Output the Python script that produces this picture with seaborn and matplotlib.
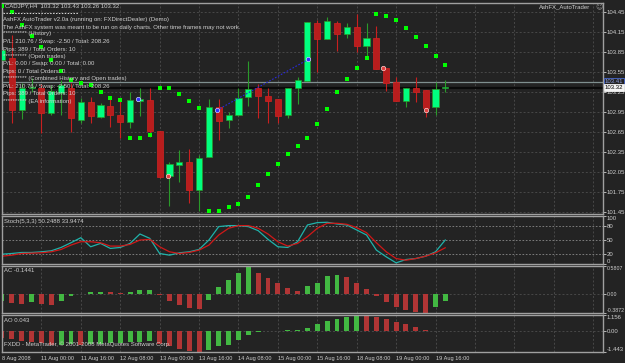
import matplotlib
matplotlib.use('Agg')
import matplotlib.pyplot as plt
import matplotlib.transforms as mtransforms
import seaborn as sns
import numpy as np
import pandas as pd

# CADJPY H4, one bar every 4 hours from 8 Aug 2008 08:00 to 19 Aug 2008 20:00
date_labels = ['8 Aug 2008', '11 Aug 00:00', '11 Aug 16:00', '12 Aug 08:00', '13 Aug 00:00',
               '13 Aug 16:00', '14 Aug 08:00', '15 Aug 00:00', '15 Aug 16:00', '18 Aug 08:00',
               '19 Aug 00:00', '19 Aug 16:00']
label_bars = [0, 4, 8, 12, 16, 20, 24, 28, 32, 36, 40, 44]

opens = [103.73, 103.76, 102.98, 103.31, 103.31, 102.94, 103.24, 103.31, 102.83, 103.10,
         102.88, 103.04, 102.91, 102.80, 103.12, 103.13, 102.67, 101.99, 102.16, 102.20,
         101.78, 102.28, 103.03, 102.83, 102.91, 103.18, 103.31, 103.19, 103.15, 102.91,
         103.31, 103.42, 104.29, 104.05, 104.29, 104.12, 104.23, 103.94, 104.06, 103.61,
         103.40, 103.12, 103.31, 103.28, 103.03, 103.32]
highs = [103.96, 104.11, 103.39, 103.46, 103.37, 103.36, 103.43, 103.39, 103.16, 103.18,
         103.09, 103.18, 103.12, 103.25, 103.31, 103.31, 102.67, 102.20, 102.38, 102.40,
         102.31, 103.15, 103.15, 102.95, 103.31, 103.72, 103.37, 103.31, 103.15, 103.31,
         103.48, 104.30, 104.33, 104.38, 104.32, 104.29, 104.42, 104.29, 104.24, 103.61,
         103.48, 103.31, 103.48, 103.28, 103.40, 103.43]
lows = [103.70, 102.79, 102.85, 103.25, 102.64, 102.91, 102.91, 102.65, 102.79, 102.79,
        102.86, 102.73, 102.56, 102.71, 102.89, 102.58, 101.96, 101.54, 101.90, 101.59,
        101.47, 102.28, 102.53, 102.71, 102.89, 103.04, 102.86, 102.79, 102.79, 102.86,
        103.07, 103.42, 103.55, 104.05, 103.87, 104.06, 103.85, 103.78, 103.60, 103.27,
        103.12, 103.03, 103.10, 102.88, 102.91, 103.26]
closes = [103.88, 102.98, 103.31, 103.33, 102.94, 103.27, 103.36, 102.86, 103.10, 102.89,
          103.06, 102.91, 102.80, 103.13, 103.15, 102.67, 101.98, 102.17, 102.20, 101.78,
          102.26, 103.03, 102.82, 102.91, 103.16, 103.30, 103.19, 103.12, 102.89, 103.31,
          103.43, 104.30, 104.05, 104.32, 104.12, 104.23, 103.94, 104.06, 103.60, 103.39,
          103.12, 103.31, 103.25, 103.01, 103.30, 103.32]

# parabolic SAR
sar = [104.55, 104.45, 104.26, 104.09, 103.93, 103.73, 103.57, 103.43, 103.39, 103.36,
       103.25, 103.16, 103.13, 102.56, 102.56, 102.61, 103.31, 103.31, 103.22, 103.12,
       103.01, 101.47, 101.47, 101.53, 101.57, 101.68, 101.86, 102.02, 102.17, 102.32,
       102.44, 102.56, 102.77, 103.00, 103.25, 103.45, 103.61, 103.76, 104.42, 104.39,
       104.33, 104.21, 104.08, 103.94, 103.79, 103.66]

stoch_k = [20.5, 21.9, 24.0, 24.0, 25.4, 27.5, 34.5, 44.3, 54.8, 35.9,
           42.9, 32.4, 34.5, 42.9, 62.5, 53.4, 21.9, 18.4, 23.3, 25.4,
           30.3, 49.9, 77.9, 80.0, 80.0, 77.9, 69.5, 51.3, 35.9, 34.5,
           46.4, 81.3, 86.2, 86.9, 83.4, 81.3, 70.9, 60.4, 28.9, 14.9,
           2.4, 9.3, 11.4, 16.3, 25.4, 50.2488]
stoch_d = [16.3, 18.4, 21.9, 22.6, 23.3, 25.4, 30.3, 39.4, 46.4, 46.4,
           44.3, 37.3, 37.3, 40.8, 49.9, 51.3, 35.9, 25.4, 21.9, 24.0,
           28.9, 39.4, 60.4, 74.4, 80.0, 80.0, 74.4, 62.5, 46.4, 37.3,
           42.9, 56.9, 74.4, 84.8, 84.8, 82.7, 75.7, 65.3, 44.3, 25.4,
           11.4, 7.9, 11.4, 16.3, 23.3, 33.9474]

ac = [-0.14, -0.19, -0.20, -0.16, -0.20, -0.22, -0.14, -0.04, 0.01, 0.05,
      0.055, 0.035, 0.02, 0.05, 0.08, 0.085, -0.02, -0.14, -0.22, -0.29,
      -0.31, -0.11, 0.14, 0.29, 0.43, 0.5807, 0.43, 0.34, 0.23, 0.12,
      0.07, 0.16, 0.23, 0.37, 0.39, 0.36, 0.24, 0.11, -0.03, -0.16,
      -0.27, -0.33, -0.36, -0.3872, -0.27, -0.1441]
ao = [-0.49, -0.56, -0.66, -0.73, -0.80, -0.97, -0.95, -0.90, -0.92, -0.90,
      -0.85, -0.80, -0.78, -0.75, -0.71, -0.66, -0.90, -1.04, -1.21, -1.38,
      -1.443, -1.29, -1.04, -0.92, -0.61, -0.22, -0.07, 0.01, 0.05, 0.07,
      0.10, 0.24, 0.49, 0.73, 0.90, 1.04, 1.156, 1.10, 1.00, 0.85,
      0.66, 0.49, 0.32, 0.12, 0.05, 0.043]

price_ticks = [101.45, 101.75, 102.05, 102.35, 102.65, 102.95, 103.25, 103.55, 103.85, 104.15, 104.45]

# trade arrows drawn by the EA
entry_x = [13.8, 21.8, 31.1]
entry_y = [103.15, 102.98, 103.745]
exit_x = [16.8, 38.7, 43.05]
exit_y = [101.99, 103.62, 102.98]

info_lines = [
    'CADJPY,H4  103.32 103.43 103.26 103.32',
    'AshFX AutoTrader v2.0a (running on: FXDirectDealer) (Demo)',
    'The AshFX system was meant to be run on daily charts. Other time frames may not work.',
    '********** (History)',
    'P/L: 210.76 / Swap: -2.50 / Total: 208.26',
    'Pips: 389 / Total Orders: 10',
    '********** (Open trades)',
    'P/L: 0.00 / Swap: 0.00 / Total: 0.00',
    'Pips: 0 / Total Orders: 0',
    '********** (Combined History and Open trades)',
    'P/L: 210.76 / Swap: -2.50 / Total: 208.26',
    'Pips: 389 / Total Orders: 10',
    '********** (EA information)',
]
info_y = [6, 20, 27, 34, 41.5, 49, 56.5, 64, 71, 78.5, 86.5, 93.5, 101]

BG = '#232323'
GRID = '#484848'
FG = '#cfcfcf'
BORDER = '#a0a0a0'
BULL = '#00ff80'
BULL_WICK = '#2a9a2a'
BEAR = '#b81d1d'
BEAR_WICK = '#c82020'
HIST_UP = '#2ecc2e'
HIST_DN = '#c62020'
FS = 4.3

sns.set_style('dark')
plt.rcParams['font.family'] = ['Liberation Sans', 'DejaVu Sans']
plt.rcParams['axes.facecolor'] = BG

W, H = 625, 363
fig = plt.figure(figsize=(W / 100, H / 100), dpi=100)
fig.patch.set_facecolor(BG)


def box(x0, y0, x1, y1):
    return [x0 / W, 1 - y1 / H, (x1 - x0) / W, (y1 - y0) / H]


ax_main = fig.add_axes(box(2, 3, 603, 214))
ax_st = fig.add_axes(box(2, 216, 603, 264))
ax_ac = fig.add_axes(box(2, 266, 603, 313))
ax_ao = fig.add_axes(box(2, 315, 603, 352))
axes = [ax_main, ax_st, ax_ac, ax_ao]

idx = np.arange(len(opens))
XMAX = 61.0

for ax in axes:
    ax.set_facecolor(BG)
    for s in ax.spines.values():
        s.set_color(BORDER)
        s.set_linewidth(1.0)
    for gx in range(0, 61, 4):
        ax.axvline(gx, color=GRID, lw=0.7, ls=(0, (2, 2)), zorder=0)

# ---- main price panel
for p in price_ticks:
    ax_main.axhline(p, color=GRID, lw=0.7, ls=(0, (2, 2)), zorder=0)

o = np.array(opens)
c = np.array(closes)
up = c >= o
wick_cols = [BULL_WICK if u else BEAR_WICK for u in up]
body_cols = [BULL if u else BEAR for u in up]
ax_main.vlines(idx, lows, highs, colors=wick_cols, lw=0.8, zorder=2)
body_h = np.maximum(np.abs(c - o), 0.012)
ax_main.bar(idx, body_h, bottom=np.minimum(o, c), width=0.62, color=body_cols,
            edgecolor=[BULL_WICK if u else '#d42222' for u in up], linewidth=0.5, zorder=3)

sns.scatterplot(x=idx, y=sar, ax=ax_main, marker='s', s=5, color='#00ff00', linewidth=0, zorder=4)

ax_main.axhline(103.41, color='#7f8f8f', lw=0.9, zorder=1)
ax_main.axhline(103.32, color='#0a0a0a', lw=1.6, zorder=1)
ax_main.plot(entry_x[1:], entry_y[1:], color='#2a2ad8', lw=0.8, ls=(0, (1.5, 1.5)), zorder=5)
ax_main.scatter(entry_x, entry_y, s=10, color='#3030ff', edgecolor='#d0d0ff', linewidth=0.5, zorder=6)
ax_main.scatter(exit_x, exit_y, s=10, color='#e04040', edgecolor='#ffd0d0', linewidth=0.5, zorder=6)

ax_main.set_ylim(101.425, 104.59)
ax_main.yaxis.tick_right()
ax_main.set_yticks(price_ticks)
ax_main.set_yticklabels([f'{p:.2f}' for p in price_ticks])

tr = mtransforms.blended_transform_factory(ax_main.transAxes, ax_main.transData)
ax_main.text(1.003, 103.41, '103.41', transform=tr, fontsize=FS, color='#8fa0e0', va='center',
             ha='left', clip_on=False, zorder=9,
             bbox=dict(boxstyle='square,pad=0.12', fc=BG, ec='#4a6ad0', lw=0.6))
ax_main.text(1.003, 103.32, '103.32', transform=tr, fontsize=FS, color='#000000', va='center',
             ha='left', clip_on=False, zorder=10,
             bbox=dict(boxstyle='square,pad=0.12', fc='#f4f4f4', ec='#f4f4f4', lw=0.6))

# ---- stochastic
for lv in [20, 50, 80]:
    ax_st.axhline(lv, color='#8a8a8a', lw=0.6, ls=(0, (2, 2)), zorder=0)
sns.lineplot(x=idx, y=stoch_k, ax=ax_st, color='#20b2aa', linewidth=0.9)
sns.lineplot(x=idx, y=stoch_d, ax=ax_st, color='#d01818', linewidth=0.9)
ax_st.set_ylim(0, 100)
ax_st.yaxis.tick_right()
ax_st.set_yticks([100, 80, 50, 20, 0])
ax_st.set_yticklabels(['100', '80', '50', '20', '0'])

# ---- AC and AO histograms
ac_up = [True] + [ac[i] > ac[i - 1] for i in range(1, len(ac))]
ao_up = [False] + [ao[i] > ao[i - 1] for i in range(1, len(ao))]
df_ac = pd.DataFrame({'bar': idx, 'value': ac, 'dir': ['up' if u else 'down' for u in ac_up]})
df_ao = pd.DataFrame({'bar': idx, 'value': ao, 'dir': ['up' if u else 'down' for u in ao_up]})
pal = {'up': HIST_UP, 'down': HIST_DN}
sns.barplot(data=df_ac, x='bar', y='value', hue='dir', palette=pal, native_scale=True,
            dodge=False, width=0.5, linewidth=0, errorbar=None, legend=False, ax=ax_ac)
sns.barplot(data=df_ao, x='bar', y='value', hue='dir', palette=pal, native_scale=True,
            dodge=False, width=0.5, linewidth=0, errorbar=None, legend=False, ax=ax_ao)
ax_ac.axhline(0, color=GRID, lw=0.7, ls=(0, (2, 2)), zorder=0)
ax_ao.axhline(0, color=GRID, lw=0.7, ls=(0, (2, 2)), zorder=0)
ax_ac.set_ylim(-0.3872, 0.5807)
ax_ao.set_ylim(-1.443, 1.156)
ax_ac.yaxis.tick_right()
ax_ac.set_yticks([0.5807, 0.0, -0.3872])
ax_ac.set_yticklabels(['0.5807', '0.00', '-0.3872'])
ax_ao.yaxis.tick_right()
ax_ao.set_yticks([1.156, 0.0, -1.443])
ax_ao.set_yticklabels(['1.156', '0.00', '-1.443'])

for ax in axes:
    ax.set_xlim(0, XMAX)
    ax.set_xlabel('')
    ax.set_ylabel('')
    ax.tick_params(axis='y', colors=FG, labelcolor=FG, labelsize=FS, length=2, width=0.6, pad=0.8)
    ax.grid(False)
    if ax is not ax_ao:
        ax.tick_params(axis='x', bottom=False, labelbottom=False)

for ax in [ax_st, ax_ac, ax_ao]:
    labs = ax.get_yticklabels()
    labs[0].set_va('top')
    labs[-1].set_va('bottom')

# the 7-character AC labels need a touch less room
for lbl in ax_ac.get_yticklabels():
    lbl.set_fontsize(3.8)

ax_ao.set_xticks(label_bars)
ax_ao.set_xticklabels(date_labels)
ax_ao.tick_params(axis='x', colors=FG, labelcolor=FG, labelsize=4.1, length=2, width=0.6, pad=1)
for lbl in ax_ao.get_xticklabels():
    lbl.set_ha('left')

# ---- texts
for yy, line in zip(info_y, info_lines):
    fig.text((3 if yy > 8 else 5) / W, 1 - yy / H, line, fontsize=FS, color=FG, va='center', ha='left')
fig.add_artist(plt.Line2D([3 / W, 78 / W], [1 - 13 / H, 1 - 13 / H], color='#d8d8d8', lw=0.7,
                          ls=(0, (1.5, 1.5))))
fig.text(539 / W, 1 - 7 / H, 'AshFX_AutoTrader', fontsize=FS, color=FG, va='center', ha='left')
fig.text(595 / W, 1 - 7 / H, '\u263a', fontsize=5, color='#9a9a9a', va='center', ha='left',
         family='DejaVu Sans')

fig.text(4 / W, 1 - 222 / H, 'Stoch(5,3,3) 50.2488 33.9474', fontsize=FS, color=FG, va='center')
fig.text(4 / W, 1 - 271 / H, 'AC -0.1441', fontsize=FS, color=FG, va='center')
fig.text(4 / W, 1 - 320 / H, 'AO 0.043', fontsize=FS, color=FG, va='center')
fig.text(4 / W, 1 - 344 / H, 'FXDD - MetaTrader, \u00a9 2001-2008 MetaQuotes Software Corp.',
         fontsize=FS, color=FG, va='center')

fig.savefig('out.png', dpi=100, facecolor=BG)
